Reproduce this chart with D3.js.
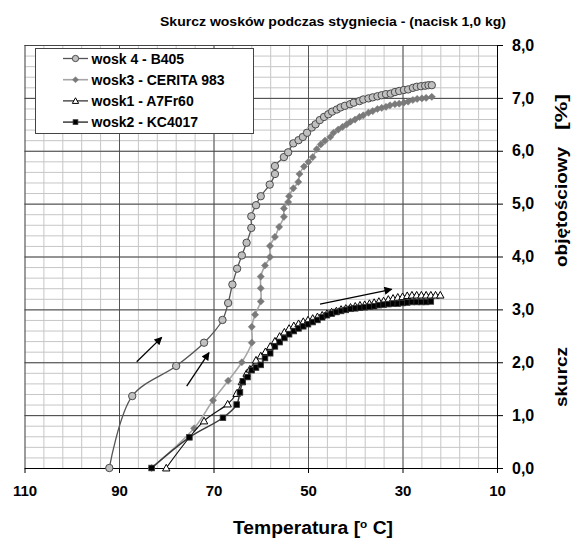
<!DOCTYPE html>
<html>
<head>
<meta charset="utf-8">
<script src="https://cdn.jsdelivr.net/npm/d3@7"></script>
<style>
    body { margin: 0; background: #fff; }
    text { font-family: "Liberation Sans", Arial, sans-serif; font-weight: bold; fill: #000; }
</style>
</head>
<body>
<div class="chart"></div>
<script>
// wosk 4 - B405 (temperatura, skurcz)
const b405Temp = [92.05, 87.2, 77.9, 72.0, 68.1, 66.9, 66.0, 65.0, 64.0, 63.0, 62.0, 62.0, 61.0, 60.0, 58.1, 57.0, 57.0, 55.1, 54.2, 53.1,
    52.0, 51.1, 50.2, 49.2, 48.4, 47.5, 46.6, 45.7, 44.9, 43.9, 43.1, 42.2, 41.1, 40.3, 39.1, 38.3, 37.2, 36.3, 35.3, 34.4,
    33.5, 32.5, 31.6, 30.7, 29.7, 28.8, 27.8, 27.0, 26.1, 25.2, 24.5, 23.8];
const b405Skurcz = [0, 1.36, 1.93, 2.37, 2.80, 3.12, 3.47, 3.77, 4.02, 4.26, 4.54, 4.76, 4.97, 5.14, 5.36, 5.56, 5.71, 5.88, 5.97, 6.14,
    6.20, 6.26, 6.34, 6.44, 6.50, 6.58, 6.64, 6.69, 6.74, 6.78, 6.82, 6.85, 6.88, 6.91, 6.94, 6.97, 6.99, 7.01, 7.03, 7.05,
    7.07, 7.08, 7.11, 7.13, 7.15, 7.16, 7.19, 7.21, 7.22, 7.23, 7.24, 7.24];

// wosk3 - CERITA 983
const ceritaTemp = [83.1, 74.1, 70.1, 66.9, 64.0, 61.9, 61.9, 61.2, 60.0, 60.0, 60.0, 59.1, 58.05, 58.05, 57.0, 56.1, 55.1, 55.1, 54.2, 54.0,
    53.1, 52.05, 51.8, 50.85, 49.9, 49.0, 48.15, 47.3, 46.4, 45.3, 44.6, 43.6, 42.7, 41.8, 41.0, 40.05, 39.1, 38.3, 37.2, 36.3,
    35.3, 34.4, 33.5, 32.65, 31.6, 30.7, 29.7, 28.8, 27.8, 26.9, 25.9, 25.0, 23.8];
const ceritaSkurcz = [0, 0.75, 1.28, 1.65, 2.00, 2.37, 2.67, 2.90, 3.15, 3.40, 3.62, 3.83, 3.99, 4.20, 4.37, 4.56, 4.75, 4.91, 5.03, 5.14,
    5.29, 5.41, 5.56, 5.70, 5.79, 5.88, 6.03, 6.12, 6.19, 6.26, 6.34, 6.40, 6.45, 6.50, 6.55, 6.59, 6.64, 6.67, 6.72, 6.75,
    6.79, 6.81, 6.83, 6.86, 6.88, 6.89, 6.91, 6.93, 6.96, 6.98, 6.99, 7.00, 7.02];

// wosk1 - A7Fr60
const a7Temp = [80, 72, 67, 65.1, 64, 63, 62.3, 61, 60, 59, 58, 57, 56, 55, 54, 53, 52, 51, 50, 49,
    48, 47, 46, 45, 44, 43, 42, 41, 40, 39, 38, 37, 36, 35, 34, 33, 32, 31, 30, 29,
    28, 27, 26, 25, 24, 23, 22];
const a7Skurcz = [0, 0.89, 1.21, 1.41, 1.63, 1.79, 1.87, 2.04, 2.12, 2.20, 2.30, 2.40, 2.49, 2.57, 2.64, 2.69, 2.73, 2.77, 2.80, 2.83,
    2.86, 2.89, 2.92, 2.95, 2.97, 3.00, 3.02, 3.04, 3.06, 3.08, 3.09, 3.11, 3.13, 3.15, 3.16, 3.19, 3.21, 3.23, 3.24, 3.26,
    3.27, 3.27, 3.27, 3.27, 3.27, 3.27, 3.27];

// wosk2 - KC4017
const kcTemp = [83.1, 75.1, 68.0, 65.1, 64.4, 63.8, 62.8, 61.9, 61.0, 60.0, 59.1, 58.0, 57.0, 56.0, 55.0, 54.0, 53.0, 52.0, 51.0, 50.0,
    49, 48, 47, 46, 45, 44, 43, 42, 41, 40, 39, 38, 37, 36, 35, 34, 33, 32, 31, 30,
    29, 28, 27, 26, 25, 24];
const kcSkurcz = [0, 0.58, 0.95, 1.20, 1.43, 1.64, 1.72, 1.85, 1.90, 1.95, 2.08, 2.17, 2.30, 2.38, 2.46, 2.53, 2.59, 2.64, 2.68, 2.72,
    2.76, 2.80, 2.85, 2.89, 2.92, 2.95, 2.97, 2.99, 3.01, 3.02, 3.03, 3.04, 3.05, 3.06, 3.08, 3.09, 3.10, 3.11, 3.11, 3.12,
    3.13, 3.14, 3.14, 3.14, 3.14, 3.15];

const seriesNames = ["wosk 4 - B405", "wosk3 - CERITA 983", "wosk1 - A7Fr60", "wosk2 - KC4017"];
const xTicks = [110, 90, 70, 50, 30, 10];
const yTicks = [0, 1, 2, 3, 4, 5, 6, 7, 8];

// arrows drawn on the chart (from temp, from skurcz, to temp, to skurcz)
const arrows = [[86.25, 2.01, 80.96, 2.47], [75.67, 1.55, 70.95, 2.18], [47.46, 3.10, 32.29, 3.38]];

const svg = d3.select(".chart")
    .append("svg")
    .attr("width", 573)
    .attr("height", 541);

const x = d3.scaleLinear().domain([110, 10]).range([24.5, 497]);
const y = d3.scaleLinear().domain([0, 8]).range([468, 45]);
const plotH = y(0) - y(8);
const plotW = x(10) - x(110);

// minor grid
svg.append("g")
    .attr("transform", `translate(0,${y(0)})`)
    .call(d3.axisBottom(x).tickValues(d3.range(110, 9, -4)).tickSize(-plotH).tickFormat(""))
    .call(g => g.select(".domain").remove())
    .call(g => g.selectAll("line").attr("stroke", "#c6c6c6"));

svg.append("g")
    .attr("transform", `translate(${x(110)},0)`)
    .call(d3.axisRight(y).tickValues(d3.range(0, 8.01, 0.2)).tickSize(plotW).tickFormat(""))
    .call(g => g.select(".domain").remove())
    .call(g => g.selectAll("line").attr("stroke", "#c6c6c6"));

// major grid
svg.append("g")
    .attr("transform", `translate(0,${y(0)})`)
    .call(d3.axisBottom(x).tickValues(xTicks).tickSize(-plotH).tickFormat(""))
    .call(g => g.select(".domain").remove())
    .call(g => g.selectAll("line").attr("stroke", "#555"));

svg.append("g")
    .attr("transform", `translate(${x(110)},0)`)
    .call(d3.axisRight(y).tickValues(yTicks).tickSize(plotW).tickFormat(""))
    .call(g => g.select(".domain").remove())
    .call(g => g.selectAll("line").attr("stroke", "#444"));

// axes
const comma = d => d3.format(".1f")(d).replace(".", ",");

svg.append("g")
    .attr("transform", `translate(0,${y(0)})`)
    .call(d3.axisBottom(x).tickValues(xTicks).tickSize(5).tickPadding(12).tickSizeOuter(0))
    .call(g => g.selectAll("text").style("font-size", "15px"));

svg.append("g")
    .attr("transform", `translate(${x(10)},0)`)
    .call(d3.axisRight(y).tickValues(yTicks).tickSize(6).tickPadding(9).tickFormat(comma).tickSizeOuter(0))
    .call(g => g.selectAll("text").style("font-size", "16px"));

// titles
svg.append("text")
    .attr("x", 160).attr("y", 26)
    .attr("textLength", 346).attr("lengthAdjust", "spacingAndGlyphs")
    .style("font-size", "13px")
    .text("Skurcz wosków podczas stygniecia - (nacisk 1,0 kg)");

const xTitle = svg.append("text")
    .attr("x", 233).attr("y", 534)
    .attr("textLength", 160).attr("lengthAdjust", "spacingAndGlyphs")
    .style("font-size", "18px");
xTitle.append("tspan").text("Temperatura [");
xTitle.append("tspan").attr("dy", -6).style("font-size", "11px").text("o");
xTitle.append("tspan").attr("dy", 6).text(" C]");

[["skurcz", 377, 60], ["objętościowy", 207, 120], ["[%]", 112, 36]].forEach(([t, cy, len]) => {
    svg.append("text")
        .attr("transform", `translate(567,${cy + len / 2}) rotate(-90)`)
        .attr("textLength", len).attr("lengthAdjust", "spacingAndGlyphs")
        .style("font-size", "16px")
        .text(t);
});

// series
const line = d3.line()
    .x(d => x(d[0]))
    .y(d => y(d[1]))
    .curve(d3.curveCatmullRom.alpha(0.5));

const zip = (a, b) => a.map((t, i) => [t, b[i]]);

const styles = [
    { data: zip(b405Temp, b405Skurcz), stroke: "#555", width: 1.3, shape: "circle", fill: "#c0c0c0", mstroke: "#4a4a4a" },
    { data: zip(ceritaTemp, ceritaSkurcz), stroke: "#a6a6a6", width: 1.6, shape: "diamond", fill: "#7a7a7a", mstroke: "#7a7a7a" },
    { data: zip(a7Temp, a7Skurcz), stroke: "#111", width: 1.1, shape: "triangle", fill: "#fff", mstroke: "#000" },
    { data: zip(kcTemp, kcSkurcz), stroke: "#3a3a3a", width: 1.5, shape: "square", fill: "#000", mstroke: "#333" }
];

function drawMarker(g, s, cx, cy, scale) {
    const k = scale || 1;
    if (s.shape === "circle") {
        g.append("circle").attr("cx", cx).attr("cy", cy).attr("r", 3.7 * k)
            .attr("fill", s.fill).attr("stroke", s.mstroke).attr("stroke-width", 1);
    } else if (s.shape === "diamond") {
        const r = 3.6 * k;
        g.append("path").attr("d", `M${cx},${cy - r}L${cx + r},${cy}L${cx},${cy + r}L${cx - r},${cy}Z`)
            .attr("fill", s.fill).attr("stroke", s.mstroke).attr("stroke-width", 0.5);
    } else if (s.shape === "triangle") {
        const r = 3.7 * k;
        g.append("path").attr("d", `M${cx},${cy - r}L${cx + r},${cy + r * 0.8}L${cx - r},${cy + r * 0.8}Z`)
            .attr("fill", s.fill).attr("stroke", s.mstroke).attr("stroke-width", 1);
    } else {
        const r = 2.8 * k;
        g.append("rect").attr("x", cx - r).attr("y", cy - r).attr("width", 2 * r).attr("height", 2 * r)
            .attr("fill", s.fill).attr("stroke", s.mstroke).attr("stroke-width", 0.8);
    }
}

styles.forEach(s => {
    const g = svg.append("g");
    g.append("path")
        .attr("d", line(s.data))
        .attr("fill", "none")
        .attr("stroke", s.stroke)
        .attr("stroke-width", s.width);
    s.data.forEach(d => drawMarker(g, s, x(d[0]), y(d[1])));
});

// arrows
svg.append("defs").append("marker")
    .attr("id", "head")
    .attr("viewBox", "0 0 10 10")
    .attr("refX", 9).attr("refY", 5)
    .attr("markerWidth", 9).attr("markerHeight", 8)
    .attr("markerUnits", "userSpaceOnUse")
    .attr("orient", "auto")
    .append("path").attr("d", "M0,0L10,5L0,10Z").attr("fill", "#000");

svg.selectAll(".arrow")
    .data(arrows)
    .enter()
    .append("line")
    .attr("class", "arrow")
    .attr("x1", d => x(d[0])).attr("y1", d => y(d[1]))
    .attr("x2", d => x(d[2])).attr("y2", d => y(d[3]))
    .attr("stroke", "#000")
    .attr("stroke-width", 1.3)
    .attr("marker-end", "url(#head)");

// legend
const legend = svg.append("g");
legend.append("rect")
    .attr("x", 35.5).attr("y", 48.5)
    .attr("width", 218).attr("height", 85)
    .attr("fill", "#fff")
    .attr("stroke", "#444");

styles.forEach((s, i) => {
    const ly = 58.5 + i * 21.2;
    legend.append("line")
        .attr("x1", 63).attr("x2", 88).attr("y1", ly).attr("y2", ly)
        .attr("stroke", s.stroke).attr("stroke-width", s.width);
    drawMarker(legend, s, 75.5, ly, 0.85);
    legend.append("text")
        .attr("x", 91.5).attr("y", ly).attr("dy", "0.36em")
        .style("font-size", "14px")
        .text(seriesNames[i]);
});
</script>
</body>
</html>
